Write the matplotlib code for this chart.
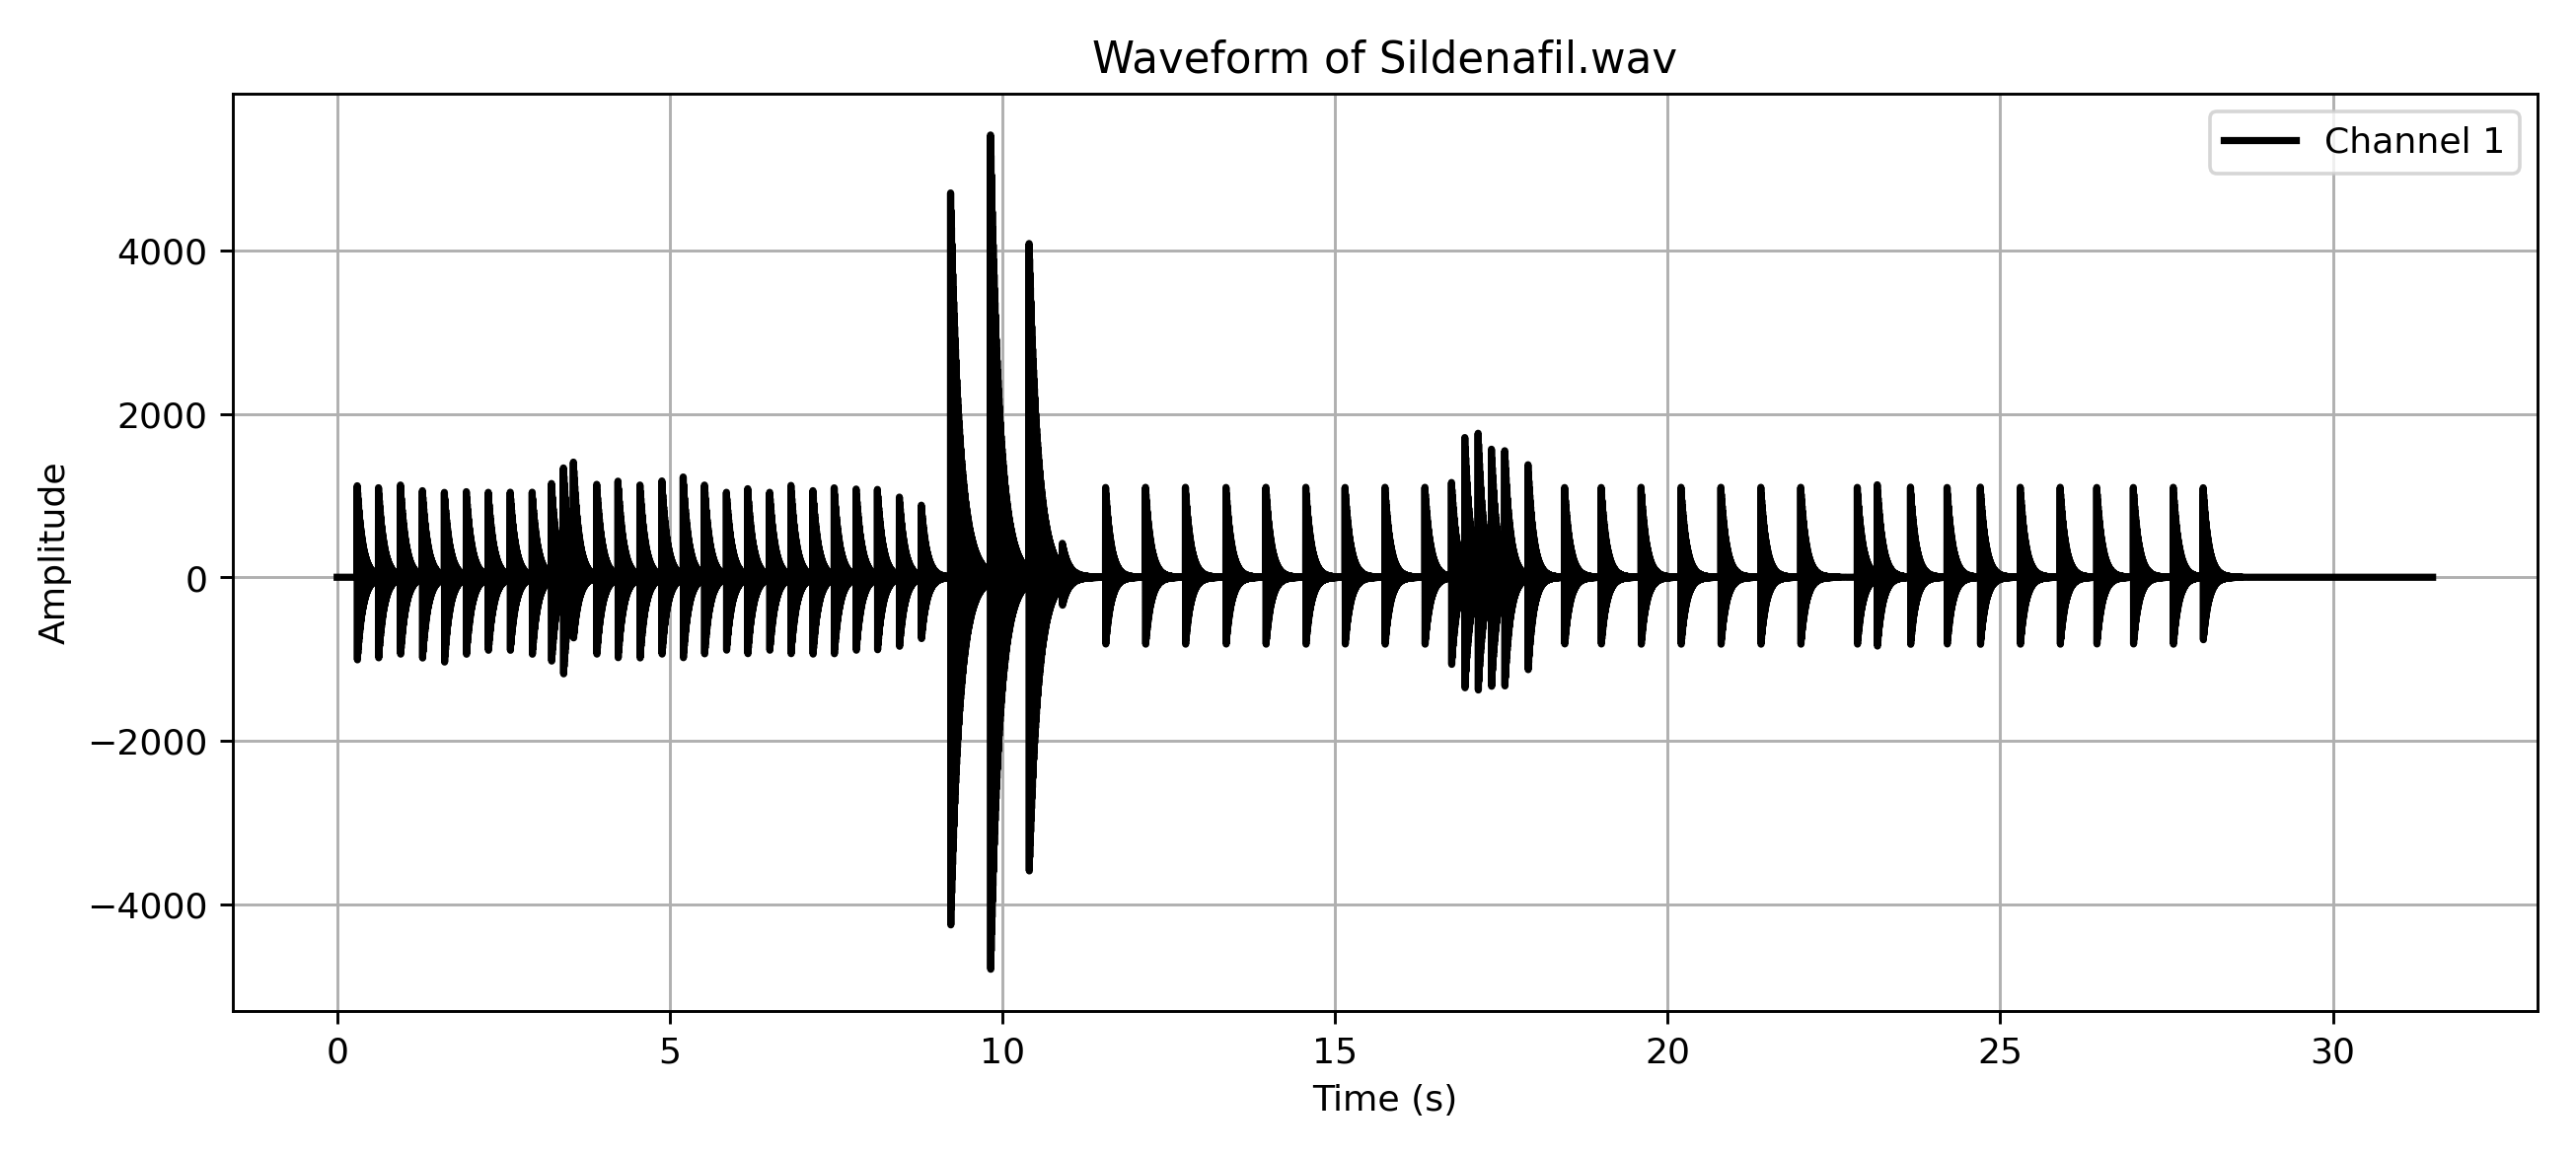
import numpy as np
import matplotlib
matplotlib.use("Agg")
import matplotlib.pyplot as plt

# Event onsets (s), positive peak, negative peak
event_times = [0.30,0.62,0.95,1.28,1.61,1.94,2.27,2.60,2.93,3.22,3.40,3.55,3.90,4.22,4.55,4.88,5.20,5.52,5.85,6.17,6.50,6.82,7.15,7.47,7.80,8.12,8.45,8.78,
               9.22,9.82,10.40,10.90,
               11.55,12.15,12.75,13.36,13.96,14.56,15.15,15.75,16.35,
               16.75,16.95,17.15,17.35,17.55,17.90,
               18.45,19.00,19.60,20.20,20.80,21.40,22.00,22.85,23.15,23.65,24.20,24.70,25.30,25.90,26.45,27.00,27.60,28.05]
event_pos = [1120,1070,1150,1080,1060,1070,1060,1060,1060,1180,1200,1620,1150,1150,1150,1200,1200,1100,1060,1060,1060,1100,1080,1070,1100,1050,1000,900,
             4700,5350,4000,300,
             1100,1100,1100,1100,1100,1100,1100,1100,1100,
             1150,1600,1600,1400,1400,1400,
             1100,1100,1100,1100,1100,1100,1100,1100,1100,1100,1100,1100,1100,1100,1100,1100,1100,1100]
event_neg = [-1050,-1000,-1000,-1050,-1100,-1000,-950,-950,-1000,-1100,-1100,-1000,-1000,-1000,-1050,-1000,-1000,-950,-950,-950,-950,-950,-1000,-950,-950,-900,-900,-800,
             -4350,-4850,-3600,-250,
             -850,-850,-850,-850,-850,-850,-850,-850,-850,
             -1100,-1300,-1300,-1250,-1250,-1200,
             -850,-850,-850,-850,-850,-850,-850,-850,-850,-850,-850,-850,-850,-850,-850,-850,-850,-800]
duration = 31.5
fs = 8000

t = np.arange(0, duration, 1/fs)
y = np.zeros_like(t)
for t0, p, n in zip(event_times, event_pos, event_neg):
    m = t >= t0
    dt = t[m] - t0
    tau = 0.14 if p > 3000 else 0.085
    env = np.exp(-(dt - 0.0017).clip(0)/tau)
    s = np.sin(2*np.pi*150*dt) * env
    y[m] += np.where(s > 0, s*p, -s*n)

fig, ax = plt.subplots(figsize=(10, 4.49), dpi=261.1)
ax.plot(t, y, color="black", label="Channel 1", linewidth=2)
ax.set_title("Waveform of Sildenafil.wav")
ax.set_xlabel("Time (s)")
ax.set_ylabel("Amplitude")
ax.grid(True)
ax.legend(loc="upper right")
fig.tight_layout()
fig.savefig("out.png", dpi=261.1)
